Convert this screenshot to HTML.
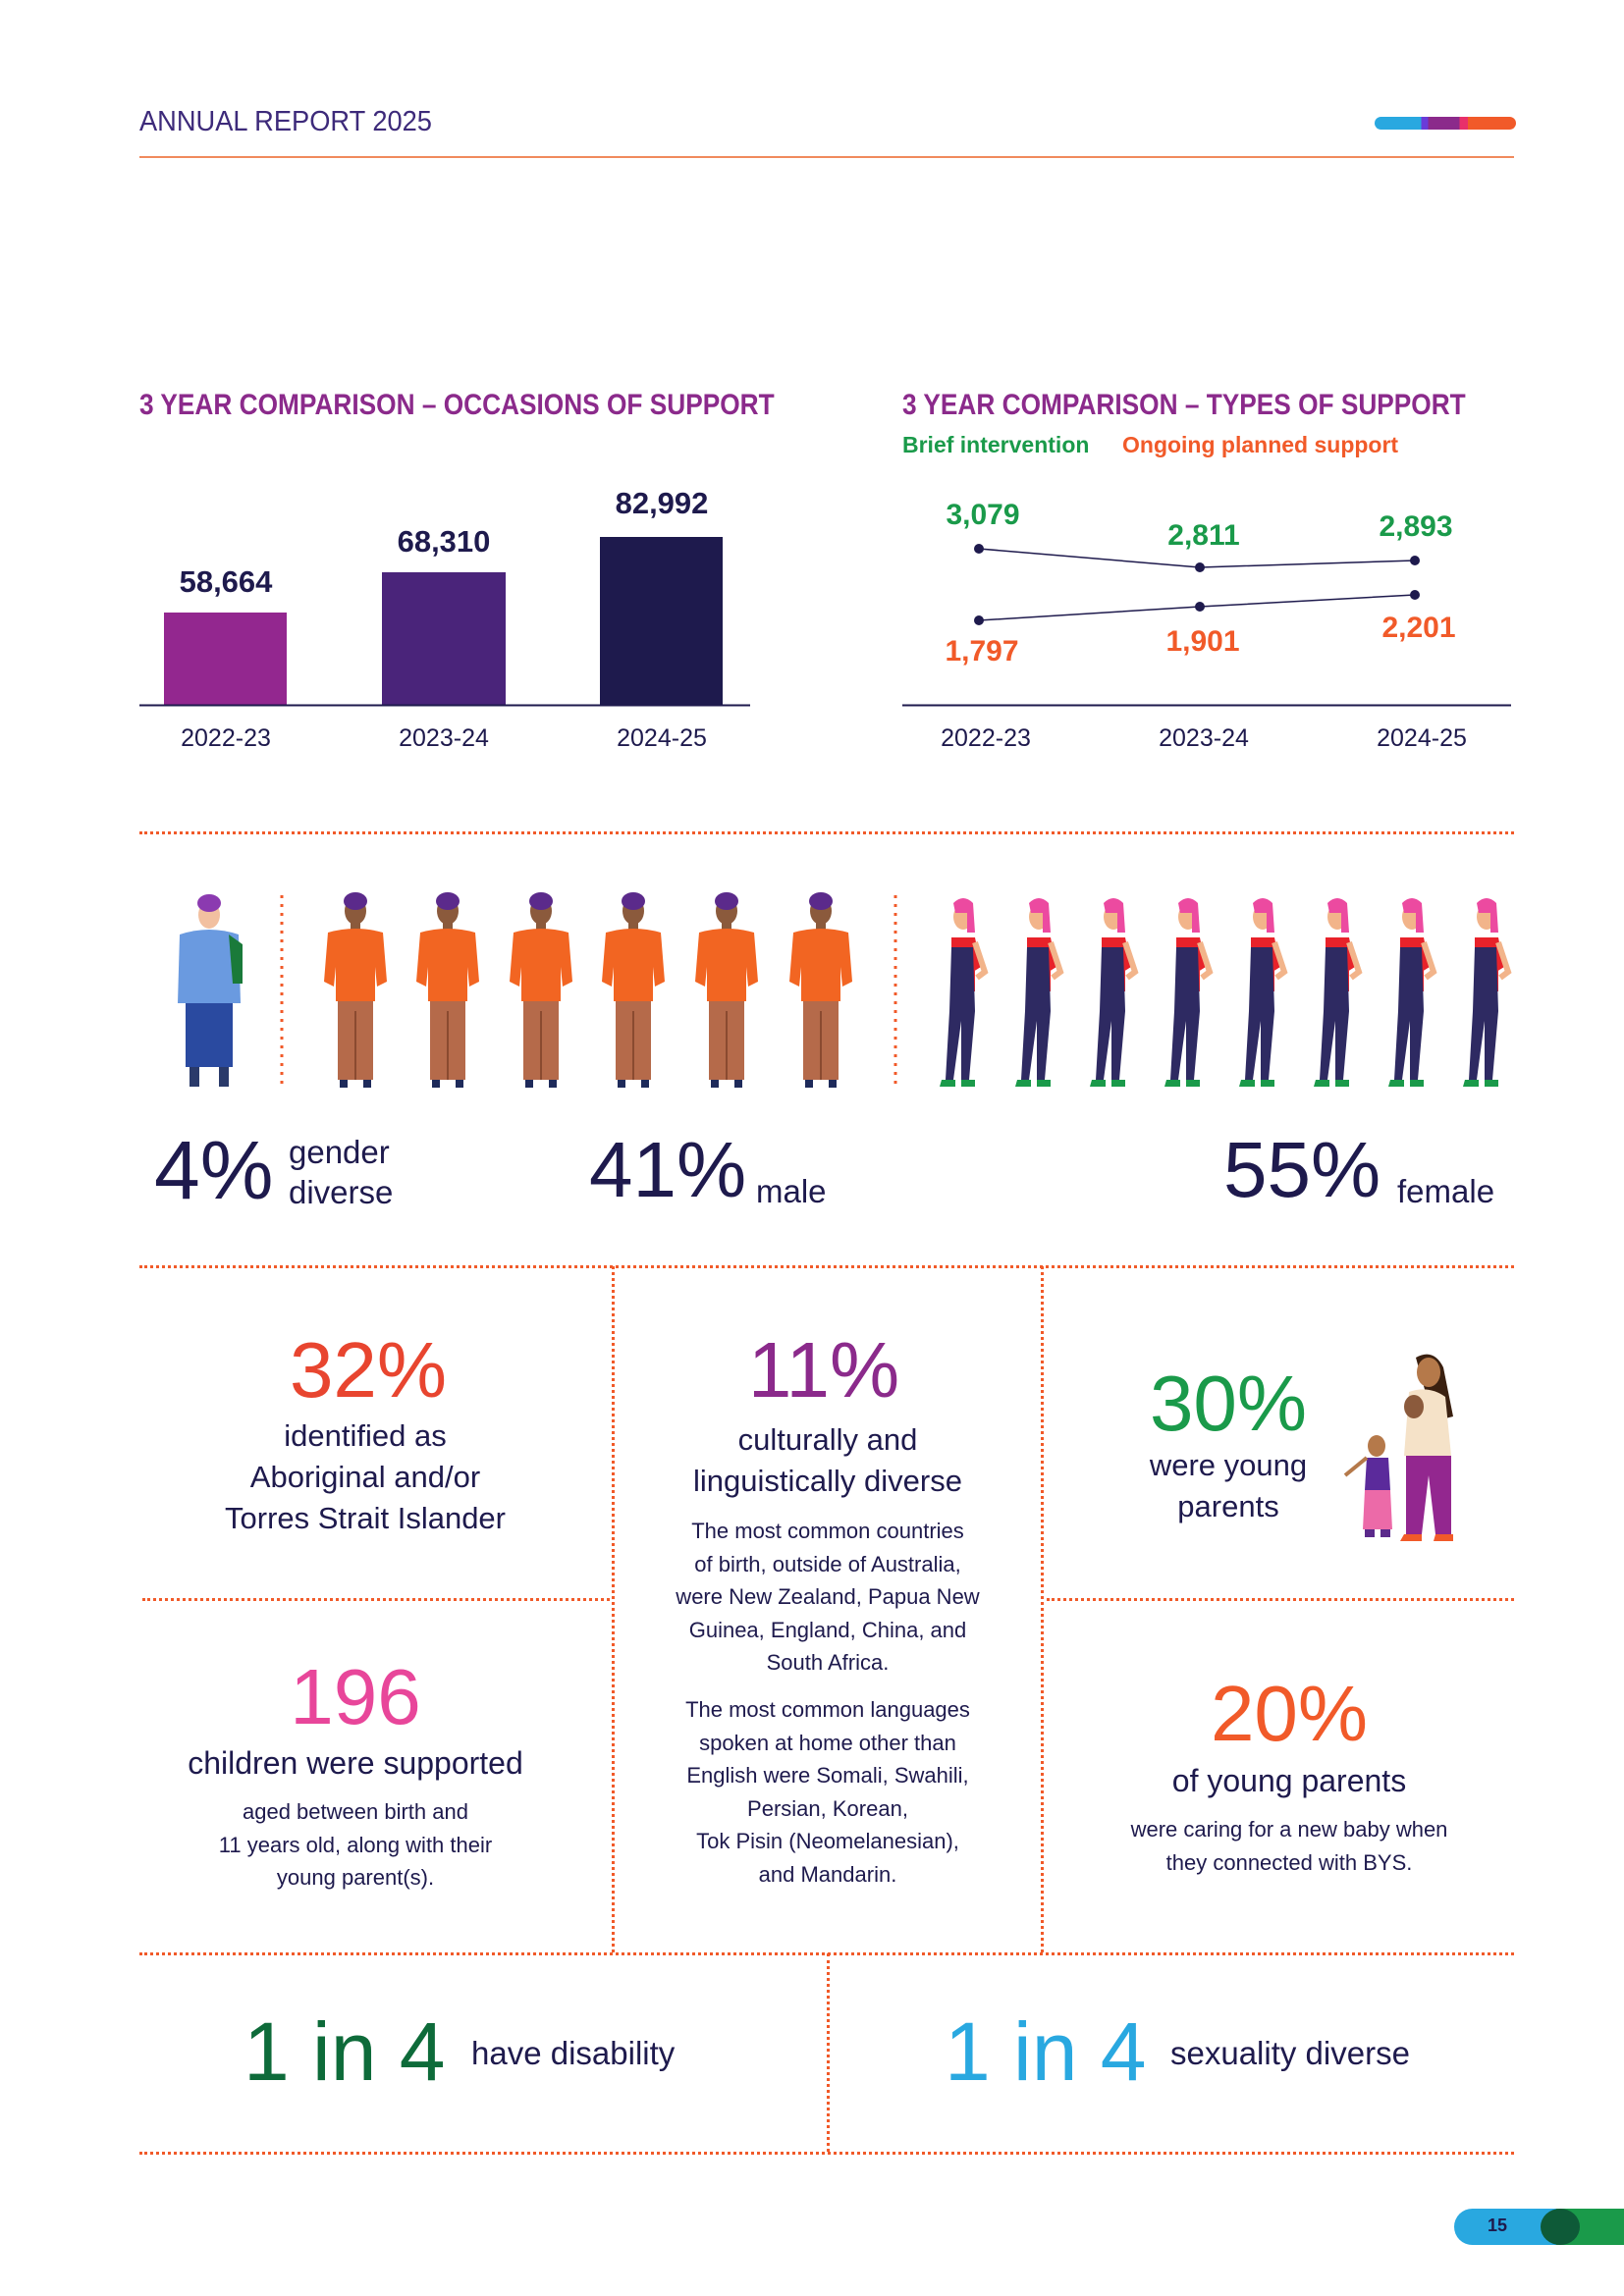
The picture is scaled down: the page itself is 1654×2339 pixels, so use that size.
<!DOCTYPE html>
<html><head><meta charset="utf-8">
<style>
*{margin:0;padding:0;box-sizing:border-box}
body{width:1654px;height:2339px;background:#fff;position:relative;overflow:hidden;font-family:"Liberation Sans",sans-serif;color:#1e1a4d}
.a{position:absolute;white-space:nowrap}
.c{transform:translateX(-50%);text-align:center}
.nar{transform:scaleX(.875);transform-origin:0 0}
.hd{height:0;border-top:3px dotted #f15a29}
.vd{width:0;border-left:3px dotted #f15a29}
.sm{font-size:22px;line-height:33.5px;color:#1e1a4d}
.md{font-size:31px;line-height:42px}
</style></head><body>
<div class="a" style="left:142px;top:108px;font-size:29px;color:#3d2a7a;transform:scaleX(.94);transform-origin:0 0">ANNUAL REPORT 2025</div>
<div class="a" style="left:142px;top:159px;width:1400px;height:2px;background:#f08a5d"></div>
<div class="a" style="left:1400px;top:119px;width:144px;height:13px;border-radius:7px;background:linear-gradient(90deg,#29a8e0 0 33%,#6a3bd8 33% 38%,#8b2a8b 38% 60%,#e8306a 60% 66%,#f15a29 66%)"></div>

<div class="a nar" style="left:142px;top:396px;font-size:30px;font-weight:bold;color:#8b2a8b">3 YEAR COMPARISON – OCCASIONS OF SUPPORT</div>
<div class="a nar" style="left:919px;top:396px;font-size:30px;font-weight:bold;color:#8b2a8b">3 YEAR COMPARISON – TYPES OF SUPPORT</div>
<div class="a" style="left:919px;top:440px;font-size:23px;font-weight:bold;color:#1a9a4a">Brief intervention</div>
<div class="a" style="left:1143px;top:440px;font-size:23px;font-weight:bold;color:#f15a29">Ongoing planned support</div>

<svg class="a" style="left:0;top:0" width="1654" height="800">
<rect x="167" y="624" width="125" height="94" fill="#93278f"/>
<rect x="389" y="583" width="126" height="135" fill="#4a247a"/>
<rect x="611" y="547" width="125" height="171" fill="#1e1a4d"/>
<line x1="142" y1="718.5" x2="764" y2="718.5" stroke="#1e1a4d" stroke-width="2"/>
<line x1="919" y1="718.5" x2="1539" y2="718.5" stroke="#1e1a4d" stroke-width="2"/>
<polyline points="997,559 1222,578 1441,571" fill="none" stroke="#1e1a4d" stroke-width="1.5"/>
<polyline points="997,632 1222,618 1441,606" fill="none" stroke="#1e1a4d" stroke-width="1.5"/>
<g fill="#1e1a4d"><circle cx="997" cy="559" r="5"/><circle cx="1222" cy="578" r="5"/><circle cx="1441" cy="571" r="5"/><circle cx="997" cy="632" r="5"/><circle cx="1222" cy="618" r="5"/><circle cx="1441" cy="606" r="5"/></g>
</svg>
<div class="a c" style="left:230px;top:575px;font-size:31px;font-weight:bold">58,664</div>
<div class="a c" style="left:452px;top:534px;font-size:31px;font-weight:bold">68,310</div>
<div class="a c" style="left:674px;top:495px;font-size:31px;font-weight:bold">82,992</div>
<div class="a c" style="left:230px;top:738px;font-size:25px">2022-23</div>
<div class="a c" style="left:452px;top:738px;font-size:25px">2023-24</div>
<div class="a c" style="left:674px;top:738px;font-size:25px">2024-25</div>
<div class="a c" style="left:1004px;top:738px;font-size:25px">2022-23</div>
<div class="a c" style="left:1226px;top:738px;font-size:25px">2023-24</div>
<div class="a c" style="left:1448px;top:738px;font-size:25px">2024-25</div>
<div class="a c" style="left:1001px;top:508px;font-size:30px;font-weight:bold;color:#1a9a4a">3,079</div>
<div class="a c" style="left:1226px;top:529px;font-size:30px;font-weight:bold;color:#1a9a4a">2,811</div>
<div class="a c" style="left:1442px;top:520px;font-size:30px;font-weight:bold;color:#1a9a4a">2,893</div>
<div class="a c" style="left:1000px;top:647px;font-size:30px;font-weight:bold;color:#f15a29">1,797</div>
<div class="a c" style="left:1225px;top:637px;font-size:30px;font-weight:bold;color:#f15a29">1,901</div>
<div class="a c" style="left:1445px;top:623px;font-size:30px;font-weight:bold;color:#f15a29">2,201</div>

<div class="a hd" style="left:142px;top:847px;width:1400px"></div>

<svg class="a" style="left:0;top:900" width="1654" height="220">
<defs>
<g id="m">
<ellipse cx="0" cy="18" rx="11" ry="14" fill="#8b5a3c"/>
<ellipse cx="0" cy="8" rx="12" ry="9" fill="#5b2a8b"/>
<rect x="-5" y="30" width="10" height="10" fill="#8b5a3c"/>
<path d="M-28,40 Q0,32 28,40 L32,90 L22,95 L20,75 L20,110 L-20,110 L-20,75 L-22,95 L-32,90 Z" fill="#f26522"/>
<rect x="-18" y="110" width="36" height="80" fill="#b56a4a"/>
<rect x="-1" y="120" width="2" height="70" fill="#8a4a30"/>
<rect x="-16" y="190" width="8" height="8" fill="#1e2a5a"/><rect x="8" y="190" width="8" height="8" fill="#1e2a5a"/>
</g>
<g id="f">
<ellipse cx="2" cy="24" rx="10" ry="13" fill="#f2b48a"/>
<path d="M-8,10 Q2,0 12,10 L14,40 L6,40 L6,20 L-6,20 Z" fill="#ec4aa0"/>
<path d="M-10,45 L14,45 L20,75 L12,80 L14,60 L14,100 L-10,100 L-10,60 Z" fill="#e8222a"/>
<path d="M-10,55 L12,55 L14,120 L8,190 L0,190 L0,130 L-8,190 L-16,190 L-12,120 Z" fill="#2e2a62"/>
<path d="M-20,190 L-6,190 L-6,197 L-22,197Z M0,190 L14,190 L14,197 L0,197Z" fill="#1a9a4a"/>
<path d="M14,50 L24,80 L16,86" stroke="#f2b48a" stroke-width="6" fill="none"/>
</g>
</defs>
<g transform="translate(213,12)">
<ellipse cx="0" cy="20" rx="11" ry="14" fill="#f2c0a0"/><ellipse cx="0" cy="8" rx="12" ry="9" fill="#8b3ab0"/>
<path d="M-30,40 Q0,30 30,40 L32,110 L-32,110 Z" fill="#6a9ae0"/>
<path d="M20,40 L34,50 L34,90 L24,90 Z" fill="#1a7a3a"/>
<rect x="-24" y="110" width="48" height="65" fill="#2a4aa0"/>
<rect x="-20" y="175" width="10" height="20" fill="#2a3a6a"/><rect x="10" y="175" width="10" height="20" fill="#2a3a6a"/>
</g>
<use href="#m" x="362" y="10"/><use href="#m" x="456" y="10"/><use href="#m" x="551" y="10"/><use href="#m" x="645" y="10"/><use href="#m" x="740" y="10"/><use href="#m" x="836" y="10"/>
<use href="#f" x="979" y="10"/><use href="#f" x="1056" y="10"/><use href="#f" x="1132" y="10"/><use href="#f" x="1208" y="10"/><use href="#f" x="1284" y="10"/><use href="#f" x="1360" y="10"/><use href="#f" x="1436" y="10"/><use href="#f" x="1512" y="10"/>
<line x1="287" y1="12" x2="287" y2="206" stroke="#f15a29" stroke-width="3" stroke-dasharray="3 6"/>
<line x1="912" y1="12" x2="912" y2="206" stroke="#f15a29" stroke-width="3" stroke-dasharray="3 6"/>
</svg>

<div class="a" style="left:157px;top:1144px;font-size:84px;line-height:96px">4%</div>
<div class="a" style="left:294px;top:1153px;font-size:33px;line-height:41px">gender<br>diverse</div>
<div class="a" style="left:600px;top:1144px;font-size:80px;line-height:96px">41%</div>
<div class="a" style="left:770px;top:1195px;font-size:33px">male</div>
<div class="a" style="left:1246px;top:1144px;font-size:80px;line-height:96px">55%</div>
<div class="a" style="left:1423px;top:1195px;font-size:33px">female</div>

<div class="a hd" style="left:142px;top:1289px;width:1400px"></div>
<div class="a vd" style="left:623px;top:1290px;height:699px"></div>
<div class="a vd" style="left:1060px;top:1290px;height:699px"></div>
<div class="a hd" style="left:145px;top:1628px;width:476px"></div>
<div class="a hd" style="left:1066px;top:1628px;width:476px"></div>

<div class="a c" style="left:375px;top:1350px;font-size:80px;color:#e8452f">32%</div>
<div class="a c md" style="left:372px;top:1442px">identified as<br>Aboriginal and/or<br>Torres Strait Islander</div>
<div class="a c" style="left:839px;top:1350px;font-size:80px;color:#8b2a8b">11%</div>
<div class="a c md" style="left:843px;top:1446px">culturally and<br>linguistically diverse</div>
<div class="a c sm" style="left:843px;top:1543px">The most common countries<br>of birth, outside of Australia,<br>were New Zealand, Papua New<br>Guinea, England, China, and<br>South Africa.</div>
<div class="a c sm" style="left:843px;top:1725px">The most common languages<br>spoken at home other than<br>English were Somali, Swahili,<br>Persian, Korean,<br>Tok Pisin (Neomelanesian),<br>and Mandarin.</div>
<div class="a c" style="left:1251px;top:1384px;font-size:80px;color:#1a9a4a">30%</div>
<div class="a c md" style="left:1251px;top:1472px">were young<br>parents</div>
<svg class="a" style="left:1360px;top:1373px" width="140" height="198">
<path d="M82,10 Q100,0 110,20 L120,70 L100,75 Z" fill="#3a2010"/>
<ellipse cx="95" cy="25" rx="12" ry="15" fill="#b5794a"/>
<path d="M75,45 Q95,38 112,50 L118,110 L70,110 Z" fill="#f5e2c8"/>
<ellipse cx="80" cy="60" rx="10" ry="12" fill="#8b5a3c"/>
<path d="M72,110 L118,110 L118,190 L102,190 L95,130 L88,190 L72,190 Z" fill="#93278f"/>
<path d="M70,190 L88,190 L88,197 L66,197Z M102,190 L120,190 L120,197 L100,197Z" fill="#f15a29"/>
<ellipse cx="42" cy="100" rx="9" ry="11" fill="#b5794a"/>
<path d="M32,112 L54,112 L56,145 L30,145Z" fill="#5b2a9b"/>
<path d="M30,145 L56,145 L58,185 L28,185Z" fill="#ec6aa8"/>
<path d="M32,112 L10,130" stroke="#b5794a" stroke-width="4"/>
<rect x="30" y="185" width="10" height="8" fill="#5b2a8b"/><rect x="46" y="185" width="10" height="8" fill="#5b2a8b"/>
</svg>

<div class="a c" style="left:362px;top:1683px;font-size:80px;color:#e8469a">196</div>
<div class="a c" style="left:362px;top:1778px;font-size:32px">children were supported</div>
<div class="a c sm" style="left:362px;top:1829px">aged between birth and<br>11 years old, along with their<br>young parent(s).</div>
<div class="a c" style="left:1313px;top:1700px;font-size:80px;color:#f15a29">20%</div>
<div class="a c" style="left:1313px;top:1796px;font-size:32px">of young parents</div>
<div class="a c sm" style="left:1313px;top:1847px">were caring for a new baby when<br>they connected with BYS.</div>

<div class="a hd" style="left:142px;top:1989px;width:1400px"></div>
<div class="a vd" style="left:842px;top:1990px;height:202px"></div>
<div class="a hd" style="left:142px;top:2192px;width:1400px"></div>

<div class="a" style="left:248px;top:2040px;font-size:84px;line-height:100px;color:#0e6b3a">1 in 4</div>
<div class="a" style="left:480px;top:2073px;font-size:33px">have disability</div>
<div class="a" style="left:962px;top:2040px;font-size:84px;line-height:100px;color:#29a8e0">1 in 4</div>
<div class="a" style="left:1192px;top:2073px;font-size:33px">sexuality diverse</div>

<div class="a" style="left:1481px;top:2250px;width:173px;height:37px;border-radius:19px 0 0 19px;background:linear-gradient(90deg,#29a8e0 0 60%,#1a9a4a 60%)"></div>
<div class="a" style="left:1569px;top:2250px;width:40px;height:37px;border-radius:50%;background:#0e5a38"></div>
<div class="a c" style="left:1525px;top:2257px;font-size:18px;font-weight:bold;color:#1e1a4d">15</div>
</body></html>
